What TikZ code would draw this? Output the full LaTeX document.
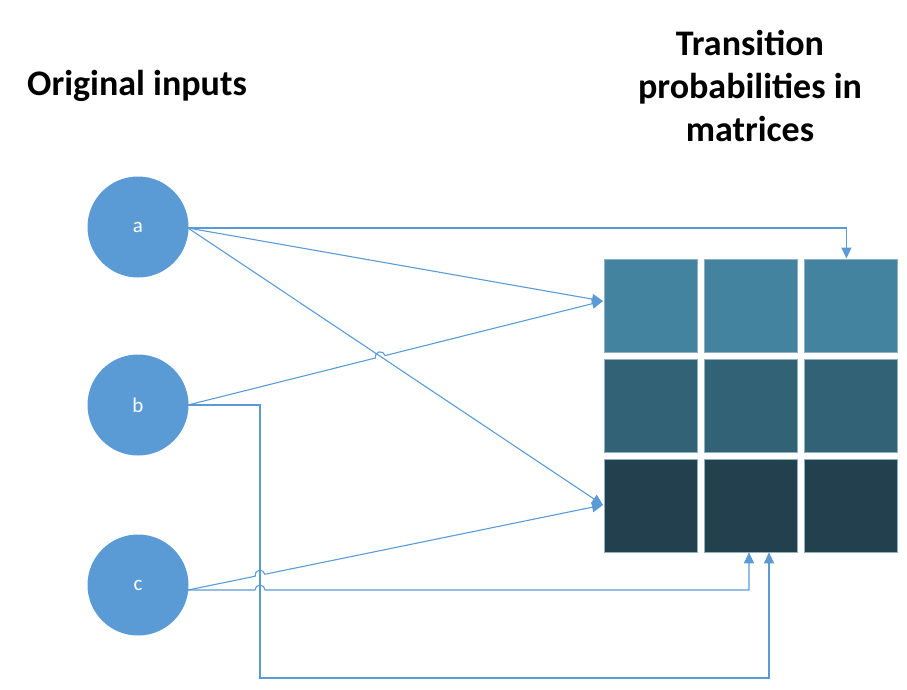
\documentclass[tikz,border=0pt]{standalone}
\usepackage{fontspec}
\setmainfont{Carlito}
\usetikzlibrary{arrows.meta}
\definecolor{circ}{HTML}{5B9BD5}
\definecolor{lin}{HTML}{5B9BD5}
\definecolor{rowA}{HTML}{44839F}
\definecolor{rowB}{HTML}{326276}
\definecolor{rowC}{HTML}{22404E}
\definecolor{cellline}{HTML}{8FB0C0}
\tikzset{
  inp/.style={circle,fill=circ,minimum size=101pt,inner sep=0pt,text=white,font=\fontsize{21}{24}\selectfont},
  cell/.style={draw=cellline,line width=0.8pt,minimum size=93pt,inner sep=0pt,anchor=north west},
  conn/.style={draw=lin,line width=1.1pt,-{Triangle[length=11pt,width=10pt]}},
  head/.style={font=\bfseries\fontsize{36}{43}\selectfont,align=center}
}
\begin{document}
\begin{tikzpicture}[x=1pt,y=-1pt]
\useasboundingbox (0,0) rectangle (907,690);
\node[head] (t1) at (137,86) {Original inputs};
\node[head] (t2) at (750,86) {Transition\\probabilities in\\matrices};
\node[inp] (a) at (138,227) {a};
\node[inp] (b) at (138,405) {b};
\node[inp] (c) at (138,585) {c};
\foreach \r/\col in {0/rowA,1/rowB,2/rowC}{
  \foreach \k in {0,1,2}{
    \node[cell,fill=\col] (m\r\k) at ({603.5+100*\k},{258.5+100*\r}) {};
  }
}
% start points
\coordinate (as) at (188,228);
\coordinate (bs) at (188,405);
\coordinate (cs) at (188,590);
% targets
\coordinate (t00) at (603,301);
\coordinate (t20) at (603,505);
% a -> top right
\draw[conn] (as) -| ([xshift=-4pt]m02.north);
% a -> row 1
\draw[conn] (as) -- (t00);
% a -> row 3
\draw[conn] (as) -- (t20);
% b -> row 1 with hop
\coordinate (hb) at (375.35,358.0);
\draw[conn] (bs) -- (hb) arc[start angle=165.93,end angle=345.93,radius=5] -- (t00);
% c -> row 3 with hop
\coordinate (hc) at (255.1,576.25);
\draw[conn] (cs) -- (hc) arc[start angle=168.43,end angle=348.43,radius=5] -- (t20);
% c -> bottom middle with hop
\coordinate (hd) at (255,590);
\coordinate (ce) at (749,590);
\draw[conn] (cs) -- (hd) arc[start angle=180,end angle=360,radius=5] -- (ce) -- (ce |- m21.south);
% b -> bottom middle right
\coordinate (b1) at (260,405);
\coordinate (b2) at (260,678);
\coordinate (b3) at (769,678);
\draw[conn] (bs) -- (b1) -- (b2) -- (b3) -- (b3 |- m21.south);
\end{tikzpicture}
\end{document}
